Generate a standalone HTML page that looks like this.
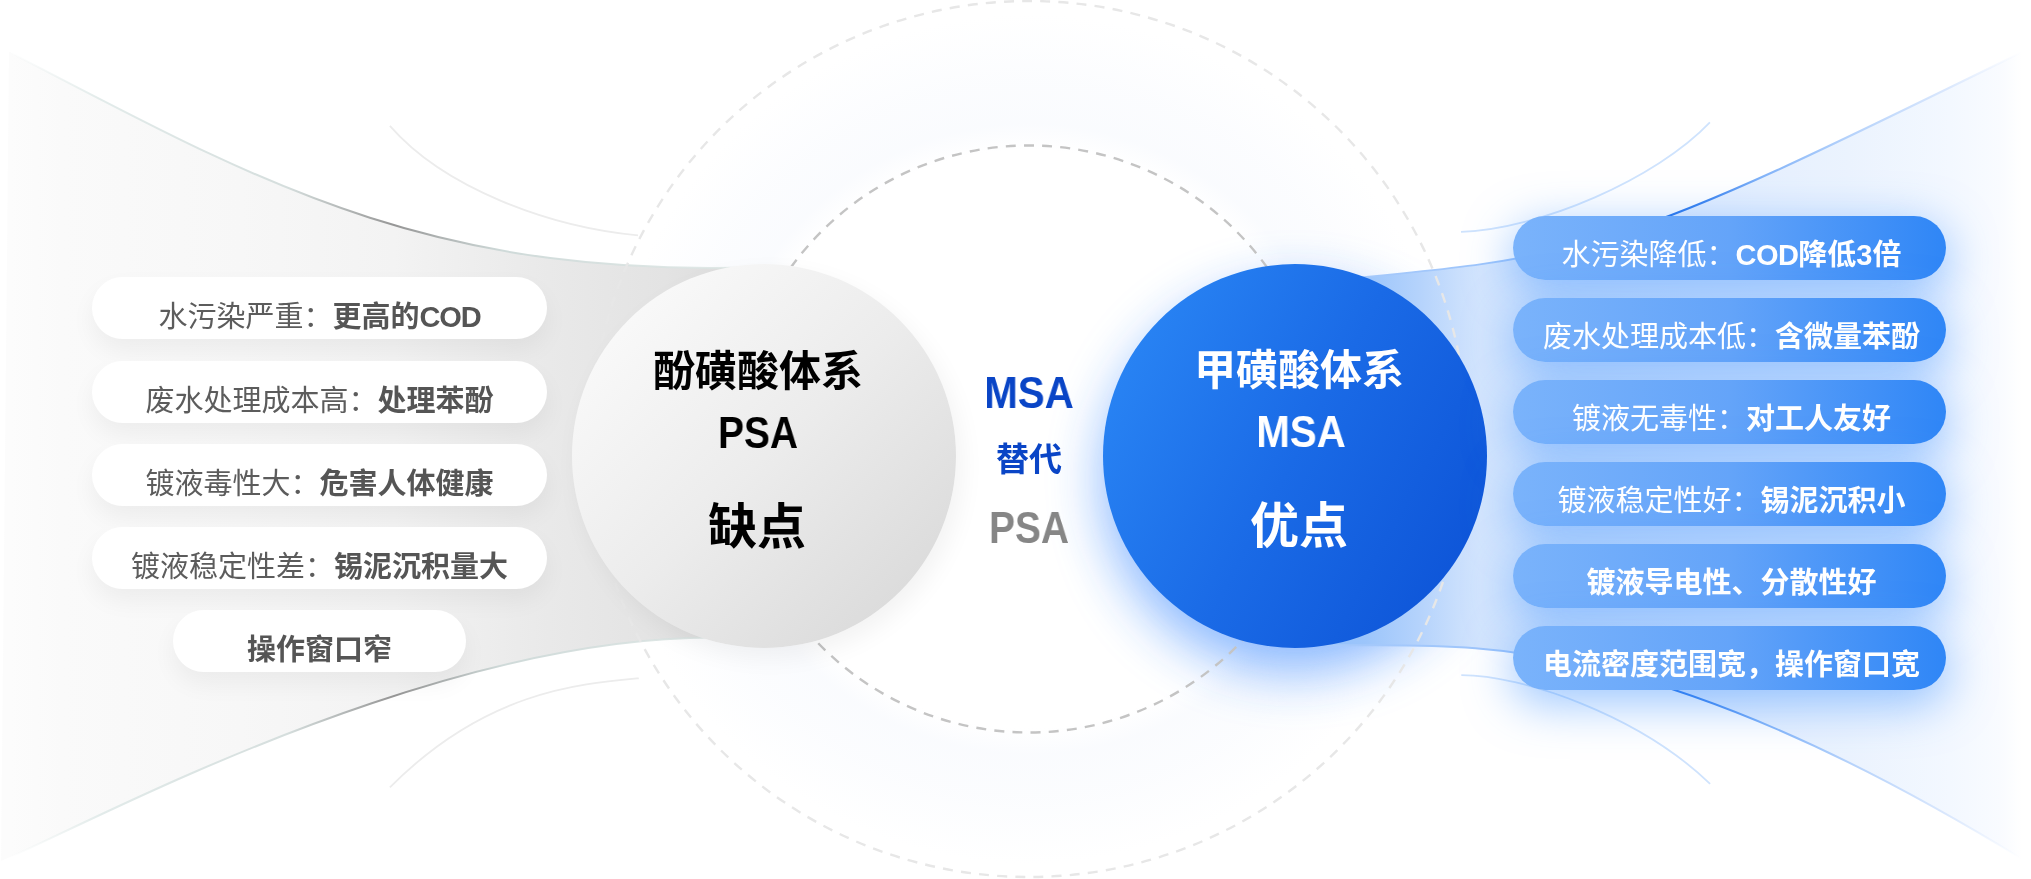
<!DOCTYPE html>
<html lang="zh-CN">
<head>
<meta charset="utf-8">
<title>MSA 替代 PSA</title>
<style>
html,body{margin:0;padding:0;background:#fff;}
body{width:2031px;height:879px;position:relative;overflow:hidden;font-family:"Liberation Sans","Noto Sans CJK SC",sans-serif;}
svg.bg{position:absolute;left:0;top:0;width:2031px;height:879px;}
.circle{position:absolute;width:384px;height:384px;border-radius:50%;top:264px;}
#cg{left:572px;background:linear-gradient(135deg,#fafafa 10%,#ececec 50%,#d9d9d9 92%);box-shadow:6px 10px 24px rgba(0,0,0,.05);}
#cb{left:1103px;background:linear-gradient(118deg,#2b88f6 4%,#1a6ae6 50%,#0c52d6 96%);}
.ct{position:absolute;width:400px;text-align:center;font-weight:700;white-space:nowrap;line-height:1;}
.k{color:#000;left:557.5px;}
.w{color:#fff;left:1100px;}
.t1{font-size:42px;}
.t2{font-size:45px;transform:scaleX(.895);}
.t3{font-size:49px;}
.pill{position:absolute;border-radius:32px;text-align:center;white-space:nowrap;font-size:29px;}
.pill span{position:relative;}
.pill i{font-style:normal;letter-spacing:-1.2px;}
.pl{left:92px;width:455px;height:62px;line-height:62px;background:#fff;color:#5c5c5c;box-shadow:0 12px 24px rgba(0,0,0,.05);}
.pl span{top:9px;}
.pl b{color:#555;}
.pr{left:1512.5px;width:433px;height:64px;line-height:64px;color:#fff;background:linear-gradient(90deg,#7ab3fb 0%,#64a4f9 50%,#2f86f6 100%);box-shadow:0 12px 46px 3px rgba(66,148,255,.5);}
.pr span{top:6.5px;left:2.5px;}
.ct,.mid,.pill span{will-change:transform;}
.mid{position:absolute;left:930px;width:200px;text-align:center;font-weight:700;line-height:1;white-space:nowrap;}
</style>
</head>
<body>
<svg class="bg" viewBox="0 0 2031 879" width="2031" height="879">
<defs>
<linearGradient id="gl" x1="9" y1="0" x2="780" y2="0" gradientUnits="userSpaceOnUse">
<stop offset="0" stop-color="#fcfcfc"/>
<stop offset="0.07" stop-color="#fafafa"/>
<stop offset="0.3" stop-color="#f7f7f7"/>
<stop offset="0.5" stop-color="#f3f3f3"/>
<stop offset="0.7" stop-color="#e9e9e9"/>
<stop offset="0.85" stop-color="#e3e3e3"/>
<stop offset="1" stop-color="#d8d8d8"/>
</linearGradient>
<linearGradient id="gls" x1="9" y1="0" x2="780" y2="0" gradientUnits="userSpaceOnUse">
<stop offset="0" stop-color="#e6eeed" stop-opacity="0"/>
<stop offset="0.12" stop-color="#e2ebea" stop-opacity="1"/>
<stop offset="0.36" stop-color="#d5dedd" stop-opacity="1"/>
<stop offset="0.5" stop-color="#969696" stop-opacity="1"/>
<stop offset="0.64" stop-color="#cfdad9" stop-opacity="1"/>
<stop offset="1" stop-color="#dfe8e6" stop-opacity=".8"/>
</linearGradient>
<linearGradient id="gr" x1="1300" y1="0" x2="2022" y2="0" gradientUnits="userSpaceOnUse">
<stop offset="0" stop-color="#8fbffb"/>
<stop offset="0.09" stop-color="#9cc5fb"/>
<stop offset="0.166" stop-color="#b5d3fc"/>
<stop offset="0.25" stop-color="#d5e6fd"/>
<stop offset="0.415" stop-color="#dceafd"/>
<stop offset="0.554" stop-color="#e3eefe"/>
<stop offset="0.76" stop-color="#ebf3fe"/>
<stop offset="0.9" stop-color="#f3f8ff"/>
<stop offset="0.97" stop-color="#f9fbff"/>
<stop offset="1" stop-color="#ffffff"/>
</linearGradient>
<linearGradient id="grs" x1="1300" y1="0" x2="2022" y2="0" gradientUnits="userSpaceOnUse">
<stop offset="0" stop-color="#a9cbfb" stop-opacity="1"/>
<stop offset="0.3" stop-color="#9cc4fb" stop-opacity="1"/>
<stop offset="0.5" stop-color="#1f6ee8" stop-opacity="1"/>
<stop offset="0.56" stop-color="#3d84ee" stop-opacity="1"/>
<stop offset="0.64" stop-color="#82b3f8" stop-opacity="1"/>
<stop offset="0.76" stop-color="#b5d2fb" stop-opacity="1"/>
<stop offset="0.9" stop-color="#dbe8fd" stop-opacity="1"/>
<stop offset="1" stop-color="#e4eefe" stop-opacity="0"/>
</linearGradient>
<radialGradient id="ring" cx="1029" cy="439" r="438" gradientUnits="userSpaceOnUse">
<stop offset="0.66" stop-color="#eef3fc" stop-opacity="0"/>
<stop offset="0.72" stop-color="#eef3fc" stop-opacity=".3"/>
<stop offset="0.82" stop-color="#eef3fc" stop-opacity=".22"/>
<stop offset="0.97" stop-color="#eef3fc" stop-opacity="0"/>
</radialGradient>
<filter id="blur" x="-50%" y="-50%" width="200%" height="200%"><feGaussianBlur stdDeviation="27"/></filter>
</defs>
<circle cx="1029" cy="439" r="438" fill="url(#ring)"/>
<circle cx="1295" cy="480" r="192" fill="#2a7fff" opacity=".55" filter="url(#blur)"/>
<circle cx="1029" cy="439" r="293.5" fill="none" stroke="#c4c4c4" stroke-width="2.4" stroke-dasharray="10 8.2" transform="rotate(2.43 1029 439)"/>
<path d="M9,51.8 C259.6,182.5 429.7,279.5 768,266.8 L768,640.1 C470.7,612.1 81.3,828.4 1,861 Z" fill="url(#gl)"/>
<path d="M9,51.8 C259.6,182.5 429.7,279.5 768,266.8" fill="none" stroke="url(#gls)" stroke-width="2"/>
<path d="M1,861 C81.3,828.4 470.7,612.1 768,640.1" fill="none" stroke="url(#gls)" stroke-width="2"/>
<path d="M389.9,125.9 C444.1,188.1 549.1,227 638,235.3" fill="none" stroke="#ececec" stroke-width="1.8"/>
<path d="M389.9,787.4 C485.3,691.3 578.9,683.7 638.8,678.3" fill="none" stroke="#ececec" stroke-width="1.8"/>
<path d="M2022.3,52 C1609.4,255.2 1600.3,256 1300,283.1 L1300,643.7 C1429.1,654.1 1601.6,600.6 2022.3,859 Z" fill="url(#gr)"/>
<path d="M2022.3,52 C1609.4,255.2 1600.3,256 1300,283.1" fill="none" stroke="url(#grs)" stroke-width="2"/>
<path d="M2022.3,859 C1601.6,600.6 1429.1,654.1 1300,643.7" fill="none" stroke="url(#grs)" stroke-width="2"/>
<path d="M1709.9,122.4 C1656.1,178.9 1540.1,229.2 1461,231.8" fill="none" stroke="#cfe3fd" stroke-width="1.8"/>
<path d="M1461.3,675.1 C1522.6,675.1 1639.3,715.4 1710.1,783.9" fill="none" stroke="#cfe3fd" stroke-width="1.8"/>
<circle cx="1029" cy="439" r="438" fill="none" stroke="#e7e7e7" stroke-width="2.4" stroke-dasharray="10 8.2"/>
</svg>

<div class="circle" id="cg"></div>
<div class="circle" id="cb"></div>

<div class="ct k t1" style="top:351.3px;">酚磺酸体系</div>
<div class="ct k t2" style="top:410px;transform:scaleX(.865);">PSA</div>
<div class="ct k t3" style="top:502.5px;left:556.7px">缺点</div>
<div class="ct w t1" style="top:350.2px;left:1099px;">甲磺酸体系</div>
<div class="ct w t2" style="top:409px;left:1100.8px;">MSA</div>
<div class="ct w t3" style="top:501.8px;left:1099px;">优点</div>

<div class="mid t2" style="top:369.6px;left:929.3px;color:#0a45c6;">MSA</div>
<div class="mid" style="top:442.5px;left:928.8px;font-size:33px;color:#0a45c6;">替代</div>
<div class="mid t2" style="top:505px;left:929.4px;transform:scaleX(.865);color:#868686;">PSA</div>

<div class="pill pl" style="top:277px;"><span>水污染严重：<b>更高的<i>COD</i></b></span></div>
<div class="pill pl" style="top:360.5px;"><span>废水处理成本高：<b>处理苯酚</b></span></div>
<div class="pill pl" style="top:444px;"><span>镀液毒性大：<b>危害人体健康</b></span></div>
<div class="pill pl" style="top:527px;"><span>镀液稳定性差：<b>锡泥沉积量大</b></span></div>
<div class="pill pl" style="top:610px;left:173px;width:293px;"><span><b>操作窗口窄</b></span></div>

<div class="pill pr" style="top:216px;"><span>水污染降低：<b><i style="letter-spacing:-.6px">COD</i>降低3倍</b></span></div>
<div class="pill pr" style="top:298px;"><span>废水处理成本低：<b>含微量苯酚</b></span></div>
<div class="pill pr" style="top:380px;"><span>镀液无毒性：<b>对工人友好</b></span></div>
<div class="pill pr" style="top:462px;"><span>镀液稳定性好：<b>锡泥沉积小</b></span></div>
<div class="pill pr" style="top:544px;"><span><b>镀液导电性、分散性好</b></span></div>
<div class="pill pr" style="top:626px;"><span><b>电流密度范围宽，操作窗口宽</b></span></div>
</body>
</html>
